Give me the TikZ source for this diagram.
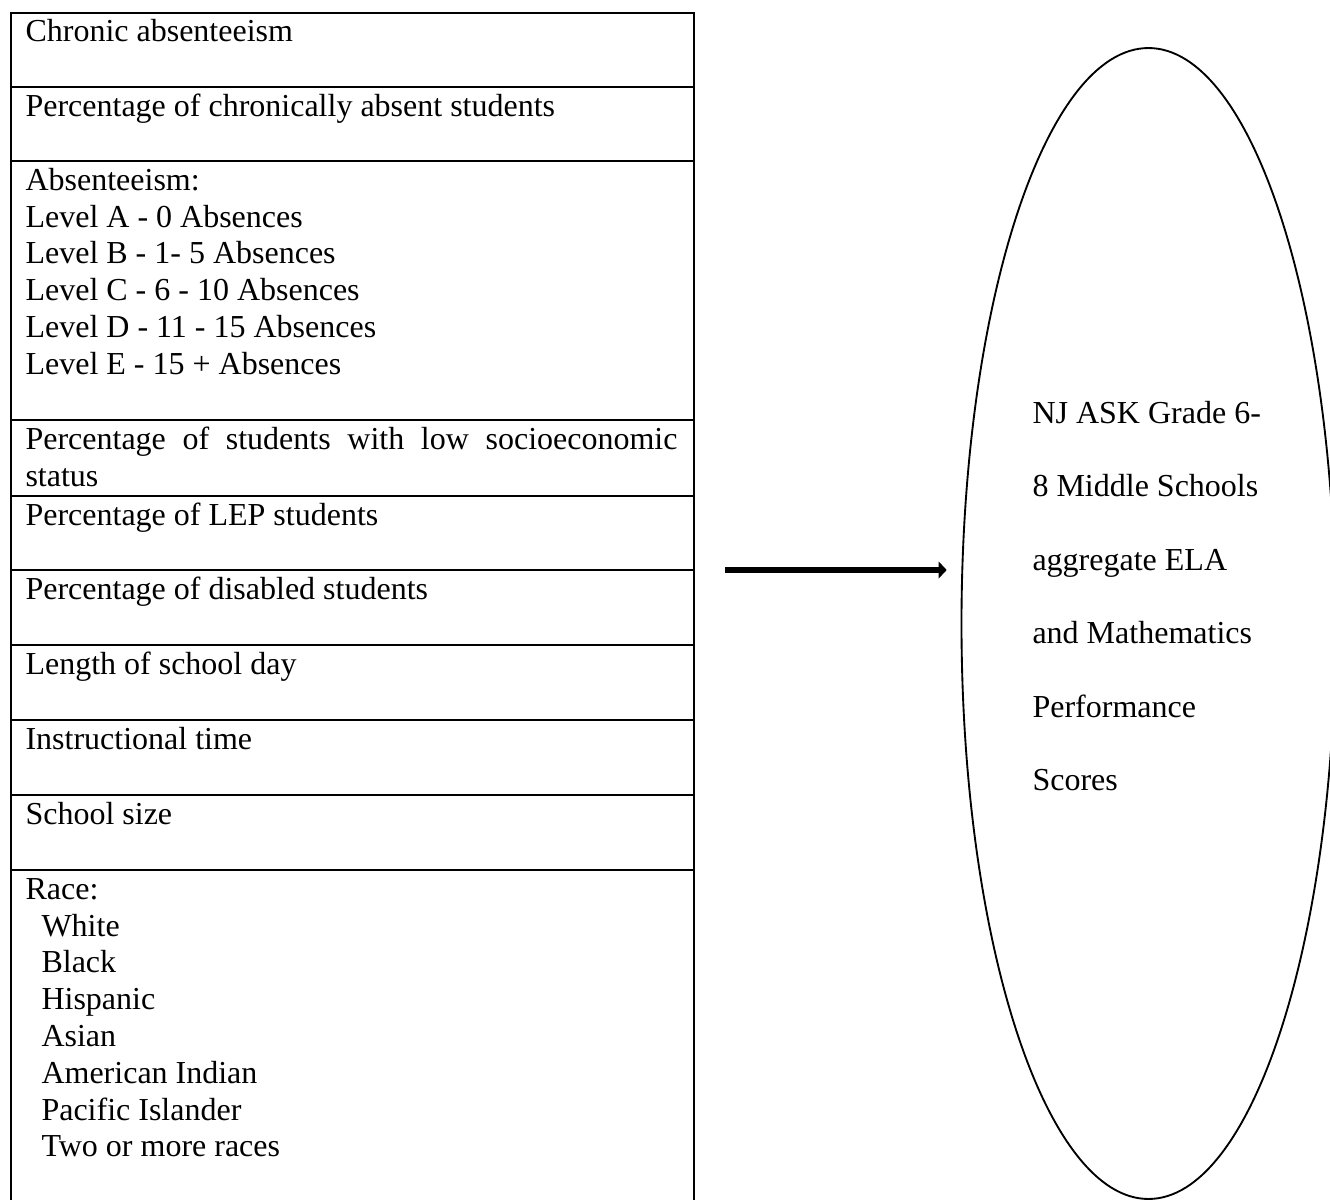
\documentclass[tikz,border=0pt]{standalone}
\usepackage{fontspec}
\setmainfont{Liberation Serif}
\usetikzlibrary{shapes.geometric,arrows.meta}
\tikzset{
  frame/.style={draw, line width=0.7pt},
  cell/.style={anchor=north west, inner sep=0pt, align=left,
    font=\fontsize{12}{13.8}\selectfont},
  outtext/.style={anchor=north west, inner sep=0pt, align=left,
    font=\fontsize{12}{27.56}\selectfont},
  bigarrow/.style={line width=2.6pt, -{Triangle[length=3pt,width=6.2pt]}},
}
\begin{document}
\begin{tikzpicture}[x=0.375pt,y=-0.375pt]
\useasboundingbox (0,0) rectangle (1330,1200);
\clip (0,0) rectangle (1330,1200);
% left box
\node[frame, rectangle, anchor=north west, inner sep=0pt,
      minimum width=256.125pt, minimum height=449.25pt] (box) at (10,12) {};
\foreach \yy in {87,161,420,496,570,645,720,795,870}
  \draw[frame] (10,\yy) -- (693,\yy);
% cell texts
\node[cell] (c1) at (25,15) {\strut Chronic absenteeism};
\node[cell] (c2) at (25,90) {\strut Percentage of chronically absent students};
\node[cell] (c3) at (25,164) {\strut Absenteeism:\\
  Level A - 0 Absences\\
  Level B - 1- 5 Absences\\
  Level C - 6 - 10 Absences\\
  Level D - 11 - 15 Absences\\
  Level E - 15 + Absences};
\node[cell] (c4) at (25,423) {\strut\hbox to 244.5pt{Percentage\hfill of\hfill students\hfill with\hfill low\hfill socioeconomic}\\
  status};
\node[cell] (c5) at (25,499) {\strut Percentage of LEP students};
\node[cell] (c6) at (25,573) {\strut Percentage of disabled students};
\node[cell] (c7) at (25,648) {\strut Length of school day};
\node[cell] (c8) at (25,723) {\strut Instructional time};
\node[cell] (c9) at (25,798) {\strut School size};
\node[cell] (c10) at (25,873) {\strut Race:\\
  \hspace*{6pt}White\\
  \hspace*{6pt}Black\\
  \hspace*{6pt}Hispanic\\
  \hspace*{6pt}Asian\\
  \hspace*{6pt}American Indian\\
  \hspace*{6pt}Pacific Islander\\
  \hspace*{6pt}Two or more races};
% outcome ellipse
\node[frame, ellipse, inner sep=0pt, minimum width=140.25pt, minimum height=431.6pt]
  (ell) at (1148.5,623.5) {};
\node[outtext] (outc) at (1032,397) {\rule{0pt}{9.66pt}NJ ASK Grade 6-\\
  8 Middle Schools\\
  aggregate ELA\\
  and Mathematics\\
  Performance\\
  Scores};
% arrow
\coordinate (ay) at (0,570);
\draw[bigarrow, shorten <=11.25pt, shorten >=5.2pt] (ay -| box.east) -- (ay -| ell.west);
\end{tikzpicture}
\end{document}
